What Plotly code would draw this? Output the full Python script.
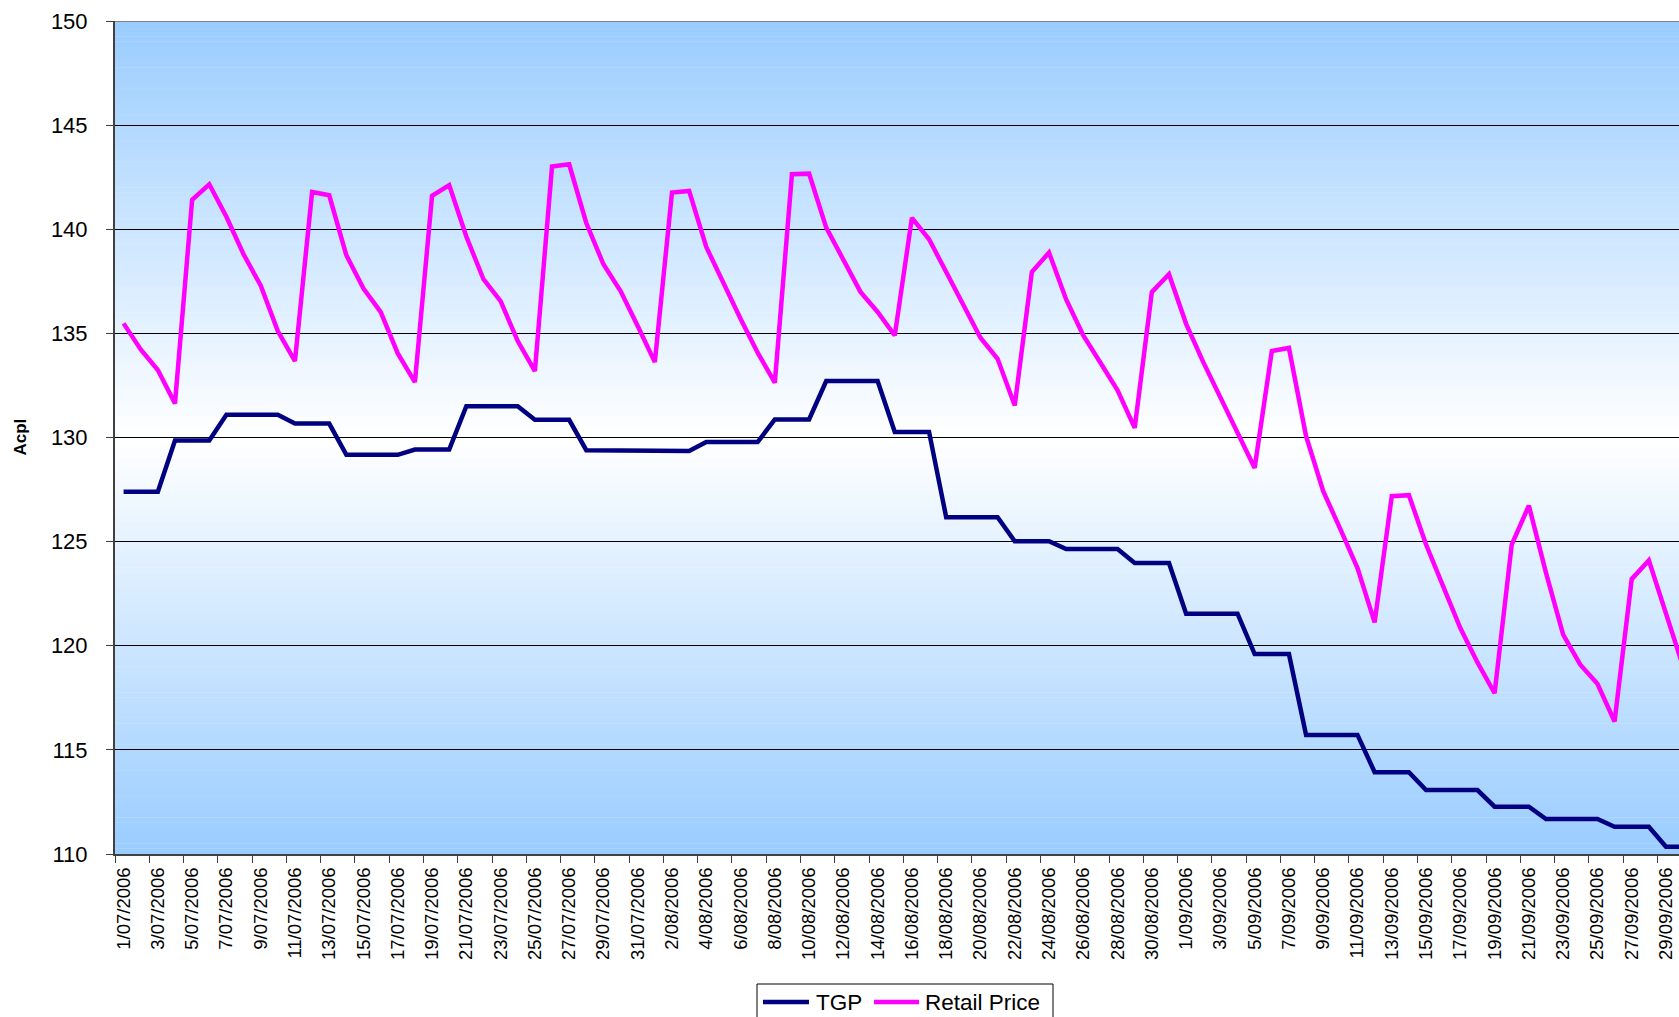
import datetime as dt
import plotly.graph_objects as go

# ---- data ----
start = dt.date(2006, 7, 1)
dates = [start + dt.timedelta(days=k) for k in range(92)]
date_labels = [f"{d.day}/{d.month:02d}/{d.year}" for d in dates]

tgp = [
    127.4, 127.4, 127.4,
    129.86, 129.86, 129.86,
    131.09, 131.09, 131.09, 131.09,
    130.67, 130.67, 130.67,
    129.17, 129.17, 129.17, 129.17,
    129.42, 129.42, 129.42,
    131.5, 131.5, 131.5, 131.5,
    130.85, 130.85, 130.85,
    129.39, 129.39, 129.39, 129.39,
    129.35, 129.35, 129.35,
    129.78, 129.78, 129.78, 129.78,
    130.87, 130.87, 130.87,
    132.71, 132.71, 132.71, 132.71,
    130.27, 130.27, 130.27,
    126.17, 126.17, 126.17, 126.17,
    125.02, 125.02, 125.02,
    124.64, 124.64, 124.64, 124.64,
    123.97, 123.97, 123.97,
    121.54, 121.54, 121.54, 121.54,
    119.6, 119.6, 119.6,
    115.72, 115.72, 115.72, 115.72,
    113.93, 113.93, 113.93,
    113.07, 113.07, 113.07, 113.07,
    112.27, 112.27, 112.27,
    111.68, 111.68, 111.68, 111.68,
    111.31, 111.31, 111.31,
    110.35, 110.35,
]

retail = [
    135.48, 134.23, 133.24, 131.63, 141.41, 142.16, 140.6, 138.8, 137.3, 135.11,
    133.67, 141.79, 141.63, 138.75, 137.15, 136.03, 134.04, 132.66, 141.6, 142.12,
    139.65, 137.6, 136.55, 134.63, 133.19, 143.01, 143.12, 140.3, 138.32, 137.03,
    135.35, 133.62, 141.76, 141.84, 139.15, 137.41, 135.7, 134.07, 132.63, 142.64,
    142.67, 140.08, 138.53, 136.99, 136.03, 134.9, 140.55, 139.52, 137.95, 136.35,
    134.79, 133.78, 131.54, 137.95, 138.88, 136.63, 134.9, 133.59, 132.27, 130.46,
    136.98, 137.84, 135.46, 133.62, 131.9, 130.2, 128.54, 134.15, 134.3, 130.06,
    127.42, 125.6, 123.73, 121.12, 127.18, 127.23, 124.86, 122.85, 120.85, 119.2,
    117.72, 124.86, 126.73, 123.5, 120.53, 119.09, 118.17, 116.36, 123.2, 124.1,
    121.54, 119.0,
]

y_ticks = [110, 115, 120, 125, 130, 135, 140, 145, 150]
series_names = ["TGP", "Retail Price"]
series_colors = ["#000080", "#FF00FF"]

FONT = "Liberation Sans, Arial, sans-serif"

W, H = 1679, 1017
ML, MT = 115, 21
PLOT_BOTTOM = 854
MB = H - PLOT_BOTTOM
PW = W - ML
PH = PLOT_BOTTOM - MT


def px_x(p):
    """figure pixel x -> paper x"""
    return (p - ML) / PW


def px_y(p):
    """figure pixel y -> paper y"""
    return (PLOT_BOTTOM - p) / PH


fig = go.Figure()
for name, vals, col in zip(series_names, [tgp, retail], series_colors):
    fig.add_trace(go.Scatter(x=date_labels, y=vals, name=name, mode="lines",
                             line=dict(color=col, width=4.5), showlegend=False))

# vertical gradient background: blue at top/bottom, white in the middle
shapes = []
nb = 160
edge = (153, 204, 255)
for k in range(nb):
    y0 = 110 + 40 * k / nb
    y1 = 110 + 40 * (k + 1) / nb
    yc = (y0 + y1) / 2
    t = abs(yc - 130) / 20
    c = tuple(round(255 * (1 - t) + edge[j] * t) for j in range(3))
    shapes.append(dict(type="rect", xref="paper", yref="y", x0=0, x1=1,
                       y0=y0, y1=y1 + 0.02, line=dict(width=0),
                       fillcolor=f"rgb({c[0]},{c[1]},{c[2]})", layer="below"))
shapes.append(dict(type="line", xref="paper", yref="y", x0=0, x1=1, y0=150, y1=150,
                   line=dict(color="#808080", width=2), layer="above"))

# boxed legend at the bottom, as in the reference
shapes.append(dict(type="rect", xref="paper", yref="paper",
                   x0=px_x(757), x1=px_x(1053), y0=px_y(1040), y1=px_y(984),
                   line=dict(color="black", width=1), fillcolor="white", layer="above"))
annotations = []
leg_y = px_y(1002)
for (lx0, lx1, tx), name, col in zip([(763, 809, 814), (874, 919, 923)],
                                     series_names, series_colors):
    shapes.append(dict(type="line", xref="paper", yref="paper",
                       x0=px_x(lx0), x1=px_x(lx1), y0=leg_y, y1=leg_y,
                       line=dict(color=col, width=4.5), layer="above"))
    annotations.append(dict(text=name, xref="paper", yref="paper", x=px_x(tx), y=leg_y,
                            xanchor="left", yanchor="middle", showarrow=False,
                            font=dict(size=22.5, family=FONT, color="black")))

annotations.append(dict(text="<b>Acpl</b>", xref="paper", yref="paper",
                        x=px_x(20), y=0.5, xanchor="center", yanchor="middle",
                        textangle=-90, showarrow=False,
                        font=dict(size=17, family=FONT, color="black")))

fig.update_layout(
    width=W, height=H,
    margin=dict(l=ML, r=0, t=MT, b=MB, autoexpand=False),
    paper_bgcolor="white", plot_bgcolor="white",
    font=dict(family=FONT, color="black"),
    showlegend=False,
    hovermode=False,
    shapes=shapes,
    annotations=annotations,
    xaxis=dict(type="category", range=[-0.5, 90.76], tickson="boundaries", dtick=2,
               tickangle=-90, tickfont=dict(size=18.5, family=FONT),
               ticks="outside", ticklen=7, tickcolor="#404040",
               showline=True, linecolor="#404040", linewidth=2,
               showgrid=False, zeroline=False, ticklabelstandoff=4, automargin=False),
    yaxis=dict(range=[110, 150], tickvals=y_ticks, ticktext=[str(v) for v in y_ticks],
               tickfont=dict(size=22, family=FONT),
               ticks="outside", ticklen=7, tickcolor="#404040",
               showline=True, linecolor="#404040", linewidth=2,
               showgrid=True, gridcolor="black", gridwidth=1, zeroline=False,
               ticklabelstandoff=14, automargin=False),
)

# place the figure at the page's top-left corner (no default body margin)
fig.write_html(
    "out.html",
    config={"displayModeBar": False, "staticPlot": True},
    post_script="document.body.style.margin='0';document.body.style.overflow='hidden';"
                "document.documentElement.style.overflow='hidden';",
)
